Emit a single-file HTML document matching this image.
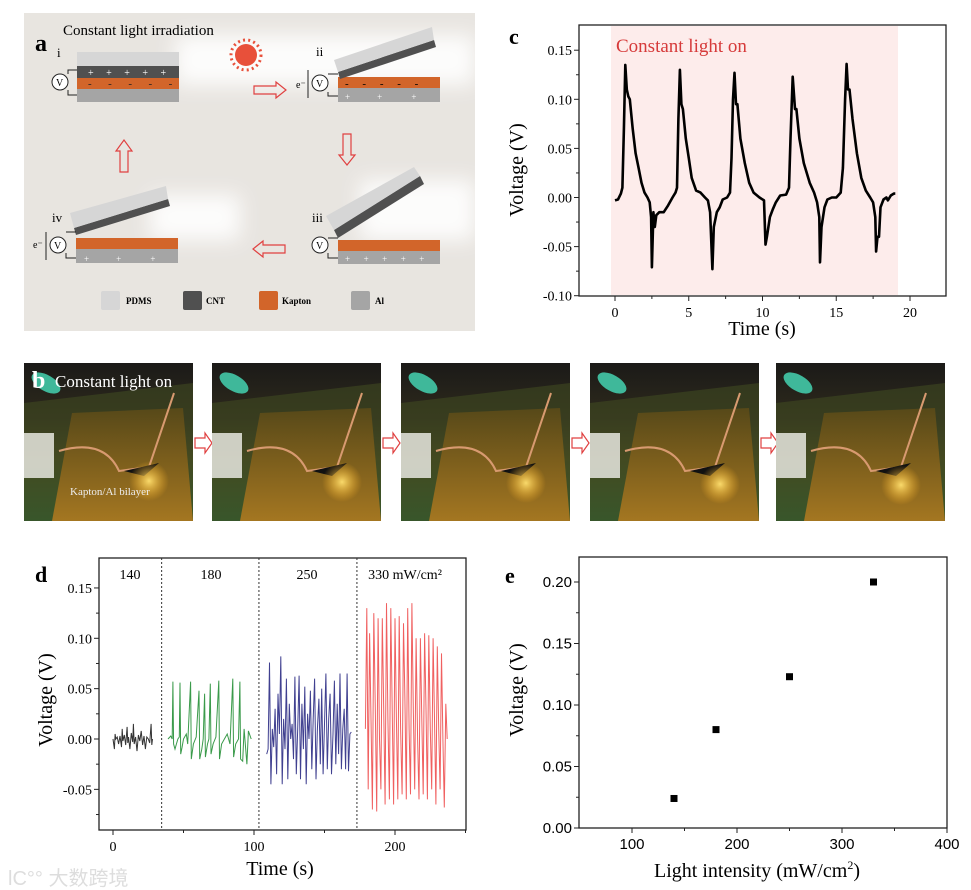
<!DOCTYPE html>
<html><head><meta charset="utf-8"><style>
html,body{margin:0;padding:0;background:#fff;}
body{width:971px;height:890px;overflow:hidden;position:relative;font-family:"Liberation Serif",serif;}
svg{position:absolute;left:0;top:0;}
</style></head><body>
<svg id="fig" width="971" height="890" viewBox="0 0 971 890" xmlns="http://www.w3.org/2000/svg">
<defs>
<filter id="blur" x="-50%" y="-50%" width="200%" height="200%"><feGaussianBlur stdDeviation="10"/></filter>
<linearGradient id="photoBg" x1="0" y1="0" x2="0" y2="1">
<stop offset="0" stop-color="#1b1a18"/><stop offset="0.35" stop-color="#2e2a1c"/><stop offset="0.6" stop-color="#4a4a20"/><stop offset="1" stop-color="#2f6a3a"/></linearGradient>
<linearGradient id="kap" x1="0" y1="0" x2="0" y2="1"><stop offset="0" stop-color="#5a4a18"/><stop offset="1" stop-color="#b07a20"/></linearGradient>
<radialGradient id="glow"><stop offset="0" stop-color="#ffe070" stop-opacity="0.95"/><stop offset="1" stop-color="#ffb020" stop-opacity="0"/></radialGradient>
</defs>

<!-- Panel a -->
<g>
<rect x="24" y="13" width="451" height="318" fill="#e8e5e0"/>
<g filter="url(#blur)" opacity="0.9">
<rect x="175" y="35" width="300" height="50" fill="#fff"/>
<rect x="360" y="180" width="115" height="60" fill="#fff"/>
<rect x="150" y="195" width="90" height="45" fill="#fff"/>
</g>
<text x="35" y="51" font-size="24" font-weight="bold">a</text>
<text x="63" y="35" font-size="15">Constant light irradiation</text>
<circle cx="246" cy="55" r="11" fill="#e8503a"/>
<circle cx="246" cy="55" r="15" fill="none" stroke="#e8503a" stroke-width="3" stroke-dasharray="2 3.2"/>
<!-- stage i -->
<g>
<text x="57" y="57" font-size="13">i</text>
<rect x="77" y="52" width="102" height="14" fill="#d6d6d6"/>
<rect x="77" y="66" width="102" height="12" fill="#505050"/>
<rect x="77" y="78" width="102" height="11" fill="#d2652a"/>
<rect x="77" y="89" width="102" height="13" fill="#a5a5a5"/>
<text x="88" y="76" font-size="10" fill="#fff">+&#160;&#160;&#160;&#160;&#160;+&#160;&#160;&#160;&#160;&#160;+&#160;&#160;&#160;&#160;&#160;+&#160;&#160;&#160;&#160;&#160;+</text>
<text x="88" y="87" font-size="11" fill="#222">-&#160;&#160;&#160;&#160;&#160;&#160;-&#160;&#160;&#160;&#160;&#160;&#160;-&#160;&#160;&#160;&#160;&#160;&#160;-&#160;&#160;&#160;&#160;&#160;&#160;-</text>
<path d="M77 70 H68 V74 M68 90 V95 H77" fill="none" stroke="#222"/>
<circle cx="60" cy="82" r="8" fill="#fff" stroke="#222"/><text x="56" y="86" font-size="10">V</text>
</g>
<!-- stage ii -->
<g>
<text x="316" y="56" font-size="13">ii</text>
<rect x="338" y="77" width="102" height="11" fill="#d2652a"/>
<rect x="338" y="88" width="102" height="14" fill="#a5a5a5"/>
<polygon points="338,72 434,40 436,47 340,79" fill="#505050"/>
<polygon points="334,60 432,27 434,40 338,72" fill="#d6d6d6"/>
<text x="345" y="100" font-size="9" fill="#fff">+&#160;&#160;&#160;&#160;&#160;&#160;&#160;&#160;&#160;&#160;&#160;&#160;+&#160;&#160;&#160;&#160;&#160;&#160;&#160;&#160;&#160;&#160;&#160;&#160;&#160;+</text>
<text x="345" y="87" font-size="11">-&#160;&#160;&#160;&#160;&#160;-&#160;&#160;&#160;&#160;&#160;-&#160;&#160;&#160;&#160;&#160;-&#160;&#160;&#160;&#160;&#160;-</text>
<circle cx="320" cy="83" r="8" fill="#fff" stroke="#222"/><text x="316" y="87" font-size="10">V</text>
<path d="M338 74 H328 M328 92 V96 H338" fill="none" stroke="#222"/>
<line x1="308" y1="98" x2="308" y2="70" stroke="#222"/><text x="296" y="88" font-size="10">e⁻</text>
</g>
<!-- stage iii -->
<g>
<text x="312" y="222" font-size="13">iii</text>
<rect x="338" y="240" width="102" height="11" fill="#d2652a"/>
<rect x="338" y="251" width="102" height="13" fill="#a5a5a5"/>
<polygon points="334,230 420,176 424,184 338,238" fill="#505050"/>
<polygon points="326,216 414,167 420,176 334,230" fill="#d6d6d6"/>
<text x="345" y="262" font-size="9" fill="#fff">+&#160;&#160;&#160;&#160;&#160;&#160;+&#160;&#160;&#160;&#160;&#160;&#160;+&#160;&#160;&#160;&#160;&#160;&#160;+&#160;&#160;&#160;&#160;&#160;&#160;+</text>
<circle cx="320" cy="245" r="8" fill="#fff" stroke="#222"/><text x="316" y="249" font-size="10">V</text>
<path d="M338 238 H328 M328 253 V258 H338" fill="none" stroke="#222"/>
</g>
<!-- stage iv -->
<g>
<text x="52" y="222" font-size="13">iv</text>
<rect x="76" y="238" width="102" height="11" fill="#d2652a"/>
<rect x="76" y="249" width="102" height="14" fill="#a5a5a5"/>
<polygon points="74,228 168,199 170,206 76,235" fill="#505050"/>
<polygon points="70,213 166,186 168,199 74,228" fill="#d6d6d6"/>
<text x="84" y="262" font-size="9" fill="#fff">+&#160;&#160;&#160;&#160;&#160;&#160;&#160;&#160;&#160;&#160;&#160;&#160;+&#160;&#160;&#160;&#160;&#160;&#160;&#160;&#160;&#160;&#160;&#160;&#160;&#160;+</text>
<circle cx="58" cy="245" r="8" fill="#fff" stroke="#222"/><text x="54" y="249" font-size="10">V</text>
<path d="M76 232 H66 M66 253 V258 H76" fill="none" stroke="#222"/>
<line x1="46" y1="232" x2="46" y2="260" stroke="#222"/><text x="33" y="248" font-size="10">e⁻</text>
</g>
<!-- arrows -->
<g fill="none" stroke="#e04040" stroke-width="1.2">
<path d="M254 86 H276 V82 L286 90 L276 98 V94 H254 Z"/>
<path d="M343 134 H351 V155 H355 L347 165 L339 155 H343 Z"/>
<path d="M285 245 H263 V241 L253 249 L263 257 V253 H285 Z"/>
<path d="M120 172 H128 V151 H132 L124 140 L116 151 H120 Z"/>
</g>
<!-- legend -->
<g font-size="9" font-weight="bold">
<rect x="101" y="291" width="19" height="19" rx="2" fill="#d6d6d6"/><text x="126" y="304">PDMS</text>
<rect x="183" y="291" width="19" height="19" rx="2" fill="#505050"/><text x="206" y="304">CNT</text>
<rect x="259" y="291" width="19" height="19" rx="2" fill="#d2652a"/><text x="282" y="304">Kapton</text>
<rect x="351" y="291" width="19" height="19" rx="2" fill="#a5a5a5"/><text x="375" y="304">Al</text>
</g>
</g>

<!-- Panel b photos -->
<g id="photos"></g>
<text x="32" y="388" font-size="24" font-weight="bold" fill="#fff">b</text>
<text x="55" y="387" font-size="17" fill="#fff">Constant light on</text>
<text x="70" y="495" font-size="11" fill="#eee">Kapton/Al bilayer</text>

<g id="chartC"></g>
<g id="chartD"></g>
<g id="chartE"></g>

<text x="8" y="885" font-size="20" fill="#ddd" font-family="'Liberation Sans','Noto Sans CJK SC',sans-serif">lC°° 大数跨境</text>
</svg>
<script>
// ---- Panel c data ----
const cTime = [0,0.2,0.4,0.5,0.6,0.7,0.8,0.9,1.0,1.2,1.4,1.6,1.8,2.0,2.2,2.35,2.45,2.5,2.6,2.7,2.8,3.0,3.3,3.6,3.9,4.1,4.2,4.3,4.4,4.5,4.6,4.8,5.0,5.2,5.5,5.8,6.1,6.3,6.45,6.6,6.7,6.9,7.1,7.3,7.6,7.8,7.9,8.0,8.1,8.2,8.3,8.5,8.8,9.1,9.4,9.8,10.1,10.2,10.3,10.5,10.7,10.9,11.2,11.6,11.8,11.9,12.05,12.2,12.3,12.5,12.8,13.2,13.5,13.7,13.85,13.9,14.0,14.2,14.4,14.7,15.0,15.3,15.45,15.6,15.7,15.8,15.9,16.1,16.4,16.7,17.0,17.3,17.5,17.65,17.7,17.8,17.9,18.0,18.2,18.4,18.5,18.7,18.9,19.0];
const cVolt = [-0.003,-0.002,0.004,0.01,0.07,0.135,0.11,0.103,0.1,0.07,0.045,0.03,0.015,0.005,0.0,-0.005,-0.02,-0.071,-0.015,-0.03,-0.018,-0.015,-0.015,-0.008,0.0,0.005,0.01,0.08,0.13,0.095,0.09,0.06,0.04,0.02,0.007,0.005,0.0,-0.003,-0.015,-0.073,-0.03,-0.015,-0.01,-0.002,0.0,0.005,0.04,0.1,0.127,0.095,0.095,0.06,0.035,0.015,0.005,0.0,-0.003,-0.048,-0.04,-0.02,-0.012,-0.005,0.002,0.003,0.01,0.06,0.123,0.09,0.09,0.06,0.035,0.015,0.005,-0.005,-0.02,-0.066,-0.03,-0.01,-0.002,0.0,0.0,0.005,0.03,0.1,0.136,0.11,0.11,0.08,0.045,0.02,0.007,0.0,-0.005,-0.02,-0.055,-0.04,-0.04,-0.01,-0.002,0.0,-0.003,0.002,0.004,0.004];
const cXTicks = [0,5,10,15,20];
const cYTicks = [-0.10,-0.05,0.00,0.05,0.10,0.15];
const cYLabels = ["-0.10","-0.05","0.00","0.05","0.10","0.15"];

// ---- Panel d data ----
const d140 = [[0,0],[1,-0.01],[1.5,0.005],[2,0],[3,0.002],[4,-0.005],[5,0.003],[6,-0.008],[6.5,0.01],[7,-0.002],[8,0.004],[9,-0.006],[10,0.012],[10.5,-0.004],[11,0.002],[12,-0.01],[13,0.006],[14,-0.003],[14.5,0.015],[15,-0.005],[16,0.002],[17,-0.012],[18,0.004],[19,-0.002],[20,0.008],[21,-0.006],[22,0.003],[23,-0.01],[24,0.002],[25,0],[26,-0.004],[27,0.015],[27.5,-0.006],[28,0]];
const d180 = [[39,0],[41,0.003],[42,0],[42.5,0.057],[43,-0.005],[44,-0.01],[45,-0.005],[46,0],[47,0.002],[47.5,0.056],[48,-0.015],[49,-0.008],[50,0],[52,0.005],[53,-0.005],[55,0.057],[55.5,-0.02],[57,-0.005],[59,0.002],[61,0.048],[61.5,-0.02],[63,-0.01],[64,0],[65,0.045],[65.5,-0.018],[67,-0.005],[68,0.0],[69,0.055],[69.5,-0.015],[71,-0.005],[73,0.002],[75,0.058],[75.5,-0.02],[77,-0.005],[79,0],[81,0.005],[83,-0.005],[85,0.06],[85.5,-0.018],[87,-0.005],[89,0.0],[90,0.057],[90.5,-0.02],[92,-0.022],[93,0.01],[95,-0.025],[96,0.008],[98,0]];
const d250 = [[109,-0.015],[110,-0.01],[111,0.076],[112,-0.045],[113,0.01],[114,-0.008],[115,0.03],[116,-0.035],[117,0.045],[118,0.005],[119,0.082],[120,-0.045],[121,0.02],[122,-0.01],[123,0.06],[124,-0.04],[125,0.035],[126,0.0],[127,0.015],[128,-0.02],[129,0.062],[130,-0.035],[131,0.01],[132,0.063],[133,-0.04],[134,0.035],[135,-0.01],[136,0.052],[137,-0.045],[138,0.025],[139,0.0],[140,0.048],[141,-0.03],[142,0.02],[143,0.06],[144,-0.04],[145,0.01],[146,0.04],[147,-0.025],[148,0.05],[149,-0.035],[150,0.015],[151,0.065],[152,-0.03],[153,0.02],[154,0.045],[155,-0.035],[156,0.005],[157,0.058],[158,-0.025],[159,0.035],[160,-0.015],[161,0.065],[162,-0.03],[163,0.01],[164,0.03],[165,-0.03],[166,0.065],[167,-0.032],[168,0.005],[169,0.007]];
const d330 = [[179,0.01],[180,0.13],[181,-0.05],[182,0.105],[183,0.02],[184,-0.07],[185,0.125],[186,0.03],[187,-0.072],[188,0.12],[189,0.0],[190,-0.05],[191,0.12],[192,0.03],[193,-0.065],[194,0.135],[195,0.02],[196,-0.06],[197,0.13],[198,0.03],[199,-0.065],[200,0.12],[201,0.02],[202,-0.06],[203,0.122],[204,0.01],[205,-0.055],[206,0.115],[207,0.04],[208,-0.06],[209,0.13],[210,0.01],[211,-0.055],[212,0.135],[213,0.03],[214,-0.05],[215,0.1],[216,0.0],[217,-0.06],[218,0.1],[219,0.02],[220,-0.055],[221,0.105],[222,0.03],[223,-0.06],[224,0.103],[225,0.01],[226,-0.05],[227,0.1],[228,0.02],[229,-0.065],[230,0.092],[231,0.01],[232,-0.05],[233,0.085],[234,0.0],[235,-0.068],[236,0.035],[237,0.0]];
const dSegments = ["140","180","250","330 mW/cm²"];
const dDividers = [34.5,103.5,173];
const dXTicks = [0,100,200];
const dYTicks = [-0.05,0.00,0.05,0.10,0.15];
const dYLabels = ["-0.05","0.00","0.05","0.10","0.15"];

// ---- Panel e data ----
const eIntensity = [140,180,250,330];
const eVoltage = [0.024,0.080,0.123,0.200];
const eXTicks = [100,200,300,400];
const eYTicks = [0.00,0.05,0.10,0.15,0.20];
const eYLabels = ["0.00","0.05","0.10","0.15","0.20"];

const NS = "http://www.w3.org/2000/svg";
function mk(parent, tag, attrs, text){
  const e = document.createElementNS(NS, tag);
  for (const k in attrs) e.setAttribute(k, attrs[k]);
  if (text !== undefined) e.textContent = text;
  parent.appendChild(e);
  return e;
}

// ---------- Photos ----------
const photoLefts = [24,212,401,590,776];
const photos = document.getElementById('photos');
photoLefts.forEach((x0,i)=>{
  const g = mk(photos,'g',{});
  
  
  const w = 169, y0 = 363, h = 158;
  mk(g,'rect',{x:x0,y:y0,width:w,height:h,fill:'url(#photoBg)'});
  mk(g,'polygon',{points:`${x0},${y0+40} ${x0+w},${y0+20} ${x0+w},${y0+h} ${x0},${y0+h}`,fill:'#3f4a22',opacity:0.6});
  mk(g,'polygon',{points:`${x0+48},${y0+50} ${x0+w-10},${y0+45} ${x0+w},${y0+h} ${x0+28},${y0+h}`,fill:'url(#kap)',opacity:0.9});
  mk(g,'rect',{x:x0,y:y0+70,width:30,height:45,fill:'#e8e8e0',opacity:0.85});
  mk(g,'ellipse',{cx:x0+22,cy:y0+20,rx:16,ry:8,fill:'#3fb89a',transform:`rotate(30 ${x0+22} ${y0+20})`});
  mk(g,'path',{d:`M${x0+35} ${y0+88} Q${x0+80} ${y0+75} ${x0+95} ${y0+108} L${x0+125} ${y0+104} Q${x0+140} ${y0+60} ${x0+150} ${y0+30}`,fill:'none',stroke:'#d89a70',"stroke-width":2});
  mk(g,'path',{d:`M${x0+100} ${y0+108} L${x0+135} ${y0+100} L${x0+120} ${y0+113} Z`,fill:'#111'});
  mk(g,'circle',{cx:x0+125+(i%2)*5,cy:y0+118+i,r:20,fill:'url(#glow)'});
  if(i<4){
    const ax = x0+w+2;
    const ar = mk(photos,'path',{d:`M${ax} 438 H${ax+10} V433 L${ax+17} 443 L${ax+10} 453 V448 H${ax} Z`,fill:'#fff',stroke:'#e04040','stroke-width':1.2});
    
    
  }
});

// ---------- Generic axes helper ----------
function axes(g, o){
  mk(g,'rect',{x:o.x0,y:o.y0,width:o.x1-o.x0,height:o.y1-o.y0,fill:'none',stroke:'#222','stroke-width':1.3});
  o.xt.forEach(v=>{
    const x=o.sx(v);
    mk(g,'line',{x1:x,y1:o.y1,x2:x,y2:o.y1+5,stroke:'#222'});
    const t=mk(g,'text',{x:x,y:o.y1+21,'font-size':o.fs,'text-anchor':'middle','font-family':o.ff},String(v));
    
    
  });
  o.xm.forEach(v=>{const x=o.sx(v);mk(g,'line',{x1:x,y1:o.y1,x2:x,y2:o.y1+3,stroke:'#222'});});
  o.yt.forEach((v,i)=>{
    const y=o.sy(v);
    mk(g,'line',{x1:o.x0-5,y1:y,x2:o.x0,y2:y,stroke:'#222'});
    const t=mk(g,'text',{x:o.x0-7,y:y+5,'font-size':o.fs,'text-anchor':'end','font-family':o.ff},o.yl[i]);
    
    
  });
  o.ym.forEach(v=>{const y=o.sy(v);mk(g,'line',{x1:o.x0-3,y1:y,x2:o.x0,y2:y,stroke:'#222'});});
}

// ---------- Panel c ----------
(function(){
  const g=document.getElementById('chartC');
  const sx=t=>615+t*14.75, sy=v=>197.5-v*982;
  const bg=mk(g,'rect',{x:611,y:26,width:287,height:269,fill:'#fdeceb'});
  
  
  const lt=mk(g,'text',{x:616,y:52,'font-size':19,fill:'#d63a3a'},'Constant light on');
  
  
  axes(g,{x0:579,x1:946,y0:25,y1:296,sx,sy,xt:cXTicks,xm:[-2.5,2.5,7.5,12.5,17.5,22.5].filter(v=>sx(v)>579&&sx(v)<946),yt:cYTicks,yl:cYLabels,ym:[-0.075,-0.025,0.025,0.075,0.125],fs:14,ff:'Liberation Serif, serif'});
  const pts=cTime.map((t,i)=>sx(t).toFixed(1)+','+sy(cVolt[i]).toFixed(1)).join(' ');
  const pl=mk(g,'polyline',{points:pts,fill:'none',stroke:'#000','stroke-width':2.6,'stroke-linejoin':'round'});
  
  
  const xt=mk(g,'text',{x:762,y:335,'font-size':20,'text-anchor':'middle'},'Time (s)');
  
  
  const yt=mk(g,'text',{x:0,y:0,'font-size':20,'text-anchor':'middle',transform:'translate(523,170) rotate(-90)'},'Voltage (V)');
  
  
  const pl2=mk(g,'text',{x:509,y:44,'font-size':22,'font-weight':'bold'},'c');
  
  
})();

// ---------- Panel d ----------
(function(){
  const g=document.getElementById('chartD');
  const sx=t=>113+t*1.41, sy=v=>739-v*1007;
  axes(g,{x0:99,x1:466,y0:558,y1:830,sx,sy,xt:dXTicks,xm:[50,150,250],yt:dYTicks,yl:dYLabels,ym:[-0.075,-0.025,0.025,0.075,0.125],fs:14,ff:'Liberation Serif, serif'});
  dDividers.forEach(t=>{
    const l=mk(g,'line',{x1:sx(t),y1:558,x2:sx(t),y2:830,stroke:'#333','stroke-dasharray':'2 2'});
    
    
  });
  const labX=[130,211,307,405];
  dSegments.forEach((s,i)=>{
    const t=mk(g,'text',{x:labX[i],y:579,'font-size':14,'text-anchor':'middle'},s);
    
    
  });
  const series=[[d140,'#333','trace-140'],[d180,'#3a9a4a','trace-180'],[d250,'#404090','trace-250'],[d330,'#f06060','trace-330']];
  series.forEach(([arr,col,nm])=>{
    const pl=mk(g,'polyline',{points:arr.map(p=>sx(p[0]).toFixed(1)+','+sy(p[1]).toFixed(1)).join(' '),fill:'none',stroke:col,'stroke-width':1});
    
    
  });
  const xt=mk(g,'text',{x:280,y:875,'font-size':20,'text-anchor':'middle'},'Time (s)');
  
  
  const yt=mk(g,'text',{x:0,y:0,'font-size':20,'text-anchor':'middle',transform:'translate(52,700) rotate(-90)'},'Voltage (V)');
  
  
  const pl2=mk(g,'text',{x:35,y:582,'font-size':22,'font-weight':'bold'},'d');
  
  
})();

// ---------- Panel e ----------
(function(){
  const g=document.getElementById('chartE');
  const sx=I=>527+I*1.05, sy=v=>828-v*1230;
  axes(g,{x0:579,x1:947,y0:557,y1:828,sx,sy,xt:eXTicks,xm:[150,250,350],yt:eYTicks,yl:eYLabels,ym:[0.025,0.075,0.125,0.175],fs:15,ff:'Liberation Sans, sans-serif'});
  eIntensity.forEach((I,i)=>{
    const r=mk(g,'rect',{x:sx(I)-3.5,y:sy(eVoltage[i])-3.5,width:7,height:7,fill:'#000'});
    
    
  });
  const xt=mk(g,'text',{x:757,y:877,'font-size':20,'text-anchor':'middle'});
  
  
  xt.innerHTML='Light intensity (mW/cm<tspan dy="-8" font-size="12">2</tspan><tspan dy="8">)</tspan>';
  const yt=mk(g,'text',{x:0,y:0,'font-size':20,'text-anchor':'middle',transform:'translate(523,690) rotate(-90)'},'Voltage (V)');
  
  
  const pl2=mk(g,'text',{x:505,y:583,'font-size':22,'font-weight':'bold'},'e');
  
  
})();
</script>
</body></html>
